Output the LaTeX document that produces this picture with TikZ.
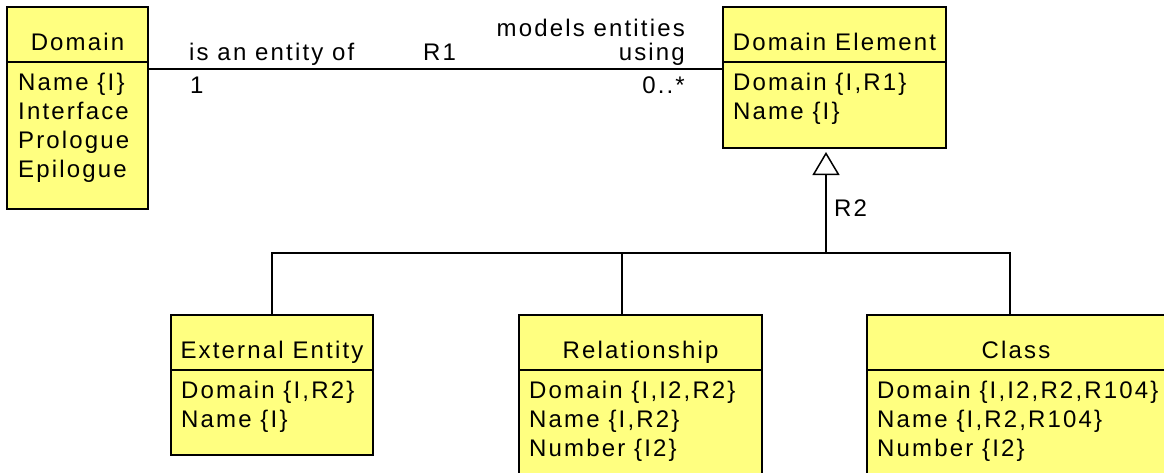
\documentclass[tikz,border=0pt]{standalone}
\usepackage{fontspec}
\newfontfamily\umlfont{Liberation Sans}[LetterSpace=9]
\usetikzlibrary{positioning, arrows.meta, calc}
\definecolor{classfill}{RGB}{255,255,128}

\begin{document}
\begin{tikzpicture}[
  x=1pt, y=-1pt,
  font=\umlfont\fontsize{24}{29}\selectfont,
  cls/.style={draw=black, fill=classfill, line width=2pt, inner sep=0pt, outer sep=0pt, anchor=north west},
  divider/.style={line width=2pt},
  title/.style={anchor=base, inner sep=0pt},
  attrs/.style={anchor=north west, align=left, inner sep=0pt},
  role/.style={inner sep=0pt, anchor=base west},
  link/.style={line width=1.5pt},
  gen/.style={-{Triangle[open, length=23pt, width=27pt]}, line width=1.5pt, shorten >=4pt}
]
\useasboundingbox (0,0) rectangle (1164,472);

% classes
\node[cls, minimum width=141pt, minimum height=202pt] (dom) at (7,7) {};
\draw[divider] ([yshift=-55pt]dom.north west) -- ([yshift=-55pt]dom.north east);
\node[title] at ([yshift=-43pt]dom.north) {Domain};
\node[attrs] at ([xshift=11pt, yshift=-66pt]dom.north west)
  {Name \{I\}\\Interface\\Prologue\\Epilogue};

\node[cls, minimum width=223pt, minimum height=141pt] (delem) at (723,7) {};
\draw[divider] ([yshift=-55pt]delem.north west) -- ([yshift=-55pt]delem.north east);
\node[title] at ([yshift=-43pt]delem.north) {Domain Element};
\node[attrs] at ([xshift=10pt, yshift=-66pt]delem.north west)
  {Domain \{I,R1\}\\Name \{I\}};

\node[cls, minimum width=202pt, minimum height=140pt] (ext) at (171,315) {};
\draw[divider] ([yshift=-55pt]ext.north west) -- ([yshift=-55pt]ext.north east);
\node[title] at ([yshift=-43pt]ext.north) {External Entity};
\node[attrs] at ([xshift=10pt, yshift=-66pt]ext.north west)
  {Domain \{I,R2\}\\Name \{I\}};

\node[cls, minimum width=243pt, minimum height=170pt] (rel) at (519,315) {};
\draw[divider] ([yshift=-55pt]rel.north west) -- ([yshift=-55pt]rel.north east);
\node[title] at ([yshift=-43pt]rel.north) {Relationship};
\node[attrs] at ([xshift=10pt, yshift=-66pt]rel.north west)
  {Domain \{I,I2,R2\}\\Name \{I,R2\}\\Number \{I2\}};

\node[cls, minimum width=298pt, minimum height=170pt] (cls) at (867,315) {};
\draw[divider] ([yshift=-55pt]cls.north west) -- ([yshift=-55pt]cls.north east);
\node[title] at ([yshift=-43pt]cls.north) {Class};
\node[attrs] at ([xshift=10pt, yshift=-66pt]cls.north west)
  {Domain \{I,I2,R2,R104\}\\Name \{I,R2,R104\}\\Number \{I2\}};

% R1
\coordinate (r1a) at ([yshift=-62pt]dom.north east);
\coordinate (r1b) at ([yshift=-62pt]delem.north west);
\draw[link] (r1a) -- (r1b);
\node[role, above right=9pt and 41pt of r1a, anchor=base west] (phr1) {is an entity of};
\node[role, below right=24pt and 42pt of r1a, anchor=base west] (mult1) {1};
\node[role, above right=9pt and 275pt of r1a, anchor=base west] (lbl1) {R1};
\node[role, above left=9pt and 38pt of r1b, anchor=base east, align=right] (phr2)
  {models entities\\[-5pt]using};
\node[role, below left=24pt and 38pt of r1b, anchor=base east] (mult2) {0..*};

% R2
\coordinate (fork) at (826,253);
\draw[gen] (fork) -- (fork |- delem.south);
\node[role, above right=37pt and 8pt of fork, anchor=base west] (lbl2) {R2};
\draw[link] (ext.north) |- ([xshift=-6pt]cls.north |- fork) -- ([xshift=-6pt]cls.north);
\draw[link] ([xshift=-18.5pt]rel.north) -- ([xshift=-18.5pt]rel.north |- fork);

\end{tikzpicture}
\end{document}
